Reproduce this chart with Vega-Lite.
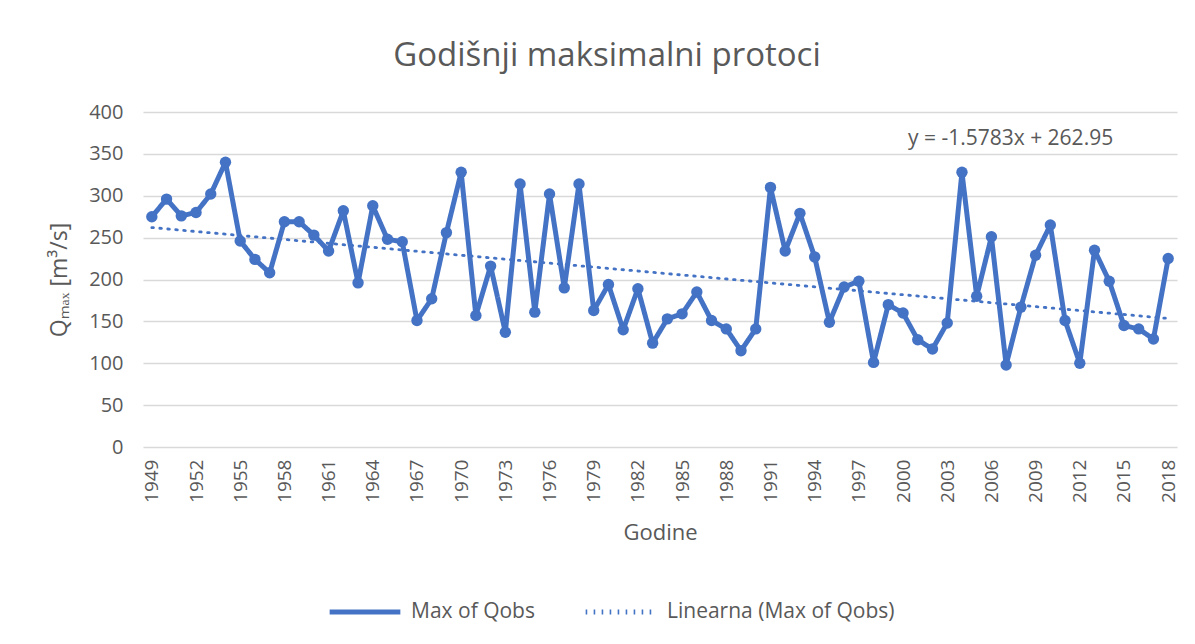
{
  "$schema": "https://vega.github.io/schema/vega-lite/v6.json",
  "width": 1034,
  "height": 335,
  "autosize": {"type": "none"},
  "padding": {"left": 143, "top": 112, "right": 18, "bottom": 197},
  "background": "white",
  "title": {
    "text": "Godišnji maksimalni protoci",
    "fontSize": 33,
    "font": "Open Sans",
    "fontWeight": "normal",
    "color": "#595959",
    "anchor": "middle",
    "dx": -53,
    "offset": 29
  },
  "config": {
    "font": "Open Sans",
    "view": {"stroke": null},
    "axis": {"labelColor": "#595959", "titleColor": "#595959", "labelFont": "Open Sans", "titleFont": "Open Sans", "titleFontWeight": "normal"}
  },
  "datasets": {
    "obs": [
      {"year": 1949, "Qmax": 275}, {"year": 1950, "Qmax": 296}, {"year": 1951, "Qmax": 276},
      {"year": 1952, "Qmax": 280}, {"year": 1953, "Qmax": 302}, {"year": 1954, "Qmax": 340},
      {"year": 1955, "Qmax": 246}, {"year": 1956, "Qmax": 224}, {"year": 1957, "Qmax": 208},
      {"year": 1958, "Qmax": 269}, {"year": 1959, "Qmax": 269}, {"year": 1960, "Qmax": 253},
      {"year": 1961, "Qmax": 234}, {"year": 1962, "Qmax": 282}, {"year": 1963, "Qmax": 196},
      {"year": 1964, "Qmax": 288}, {"year": 1965, "Qmax": 248}, {"year": 1966, "Qmax": 245},
      {"year": 1967, "Qmax": 151}, {"year": 1968, "Qmax": 177}, {"year": 1969, "Qmax": 256},
      {"year": 1970, "Qmax": 328}, {"year": 1971, "Qmax": 157}, {"year": 1972, "Qmax": 216},
      {"year": 1973, "Qmax": 137}, {"year": 1974, "Qmax": 314}, {"year": 1975, "Qmax": 161},
      {"year": 1976, "Qmax": 302}, {"year": 1977, "Qmax": 190}, {"year": 1978, "Qmax": 314},
      {"year": 1979, "Qmax": 163}, {"year": 1980, "Qmax": 194}, {"year": 1981, "Qmax": 140},
      {"year": 1982, "Qmax": 189}, {"year": 1983, "Qmax": 124}, {"year": 1984, "Qmax": 153},
      {"year": 1985, "Qmax": 159}, {"year": 1986, "Qmax": 185}, {"year": 1987, "Qmax": 151},
      {"year": 1988, "Qmax": 141}, {"year": 1989, "Qmax": 115}, {"year": 1990, "Qmax": 141},
      {"year": 1991, "Qmax": 310}, {"year": 1992, "Qmax": 234}, {"year": 1993, "Qmax": 279},
      {"year": 1994, "Qmax": 227}, {"year": 1995, "Qmax": 149}, {"year": 1996, "Qmax": 191},
      {"year": 1997, "Qmax": 198}, {"year": 1998, "Qmax": 101}, {"year": 1999, "Qmax": 170},
      {"year": 2000, "Qmax": 160}, {"year": 2001, "Qmax": 128}, {"year": 2002, "Qmax": 117},
      {"year": 2003, "Qmax": 148}, {"year": 2004, "Qmax": 328}, {"year": 2005, "Qmax": 180},
      {"year": 2006, "Qmax": 251}, {"year": 2007, "Qmax": 98}, {"year": 2008, "Qmax": 167},
      {"year": 2009, "Qmax": 229}, {"year": 2010, "Qmax": 265}, {"year": 2011, "Qmax": 151},
      {"year": 2012, "Qmax": 100}, {"year": 2013, "Qmax": 235}, {"year": 2014, "Qmax": 198},
      {"year": 2015, "Qmax": 145}, {"year": 2016, "Qmax": 141}, {"year": 2017, "Qmax": 129},
      {"year": 2018, "Qmax": 225}
    ],
    "eq": [{"label": "y = -1.5783x + 262.95", "year": 2007.3, "Qmax": 368}]
  },
  "layer": [
    {
      "data": {"name": "obs"},
      "transform": [{"regression": "Qmax", "on": "year"}],
      "mark": {"type": "line", "strokeWidth": 2.8, "strokeCap": "round"},
      "encoding": {
        "x": {"field": "year", "type": "quantitative"},
        "y": {"field": "Qmax", "type": "quantitative"},
        "color": {"datum": "Linearna (Max of Qobs)"},
        "strokeDash": {"datum": "Linearna (Max of Qobs)"}
      }
    },
    {
      "data": {"name": "obs"},
      "mark": {"type": "line", "strokeWidth": 5, "strokeJoin": "round", "point": {"size": 130, "filled": true, "opacity": 1}},
      "encoding": {
        "x": {
          "field": "year", "type": "quantitative",
          "scale": {"domain": [1948.4, 2018.6], "nice": false, "zero": false},
          "axis": {
            "title": "Godine", "titleFontSize": 22, "titlePadding": 20,
            "values": [1949,1952,1955,1958,1961,1964,1967,1970,1973,1976,1979,1982,1985,1988,1991,1994,1997,2000,2003,2006,2009,2012,2015,2018],
            "format": "d", "labelAngle": -90, "labelFontSize": 19, "labelPadding": 12,
            "labelBaseline": "middle", "labelAlign": "right",
            "ticks": false, "domain": false, "grid": false, "labelOverlap": false, "labelFlush": false
          }
        },
        "y": {
          "field": "Qmax", "type": "quantitative",
          "scale": {"domain": [0, 400], "nice": false},
          "axis": {
            "title": "Qₘₐₓ [m³/s]", "titleFontSize": 23, "titlePadding": 17,
            "values": [0,50,100,150,200,250,300,350,400],
            "labelFontSize": 20, "labelPadding": 20,
            "ticks": false, "domain": false, "grid": true, "gridColor": "#d9d9d9", "gridWidth": 1.3
          }
        },
        "color": {
          "datum": "Max of Qobs",
          "scale": {"domain": ["Max of Qobs", "Linearna (Max of Qobs)"], "range": ["#4472C4", "#4472C4"]},
          "legend": {
            "orient": "none", "legendX": 184, "legendY": 462, "direction": "horizontal",
            "title": null, "symbolType": "stroke", "symbolSize": 5000, "symbolStrokeWidth": 5,
            "labelFontSize": 21, "labelColor": "#595959", "labelOffset": 8, "columnPadding": 40,
            "labelFont": "Open Sans", "labelLimit": 500
          }
        },
        "strokeDash": {
          "datum": "Max of Qobs",
          "scale": {"domain": ["Max of Qobs", "Linearna (Max of Qobs)"], "range": [[1, 0], [1.6, 6.4]]},
          "legend": null
        }
      }
    },
    {
      "data": {"name": "eq"},
      "mark": {"type": "text", "fontSize": 21, "color": "#595959", "font": "Open Sans"},
      "encoding": {
        "x": {"field": "year", "type": "quantitative"},
        "y": {"field": "Qmax", "type": "quantitative"},
        "text": {"field": "label"}
      }
    }
  ]
}
